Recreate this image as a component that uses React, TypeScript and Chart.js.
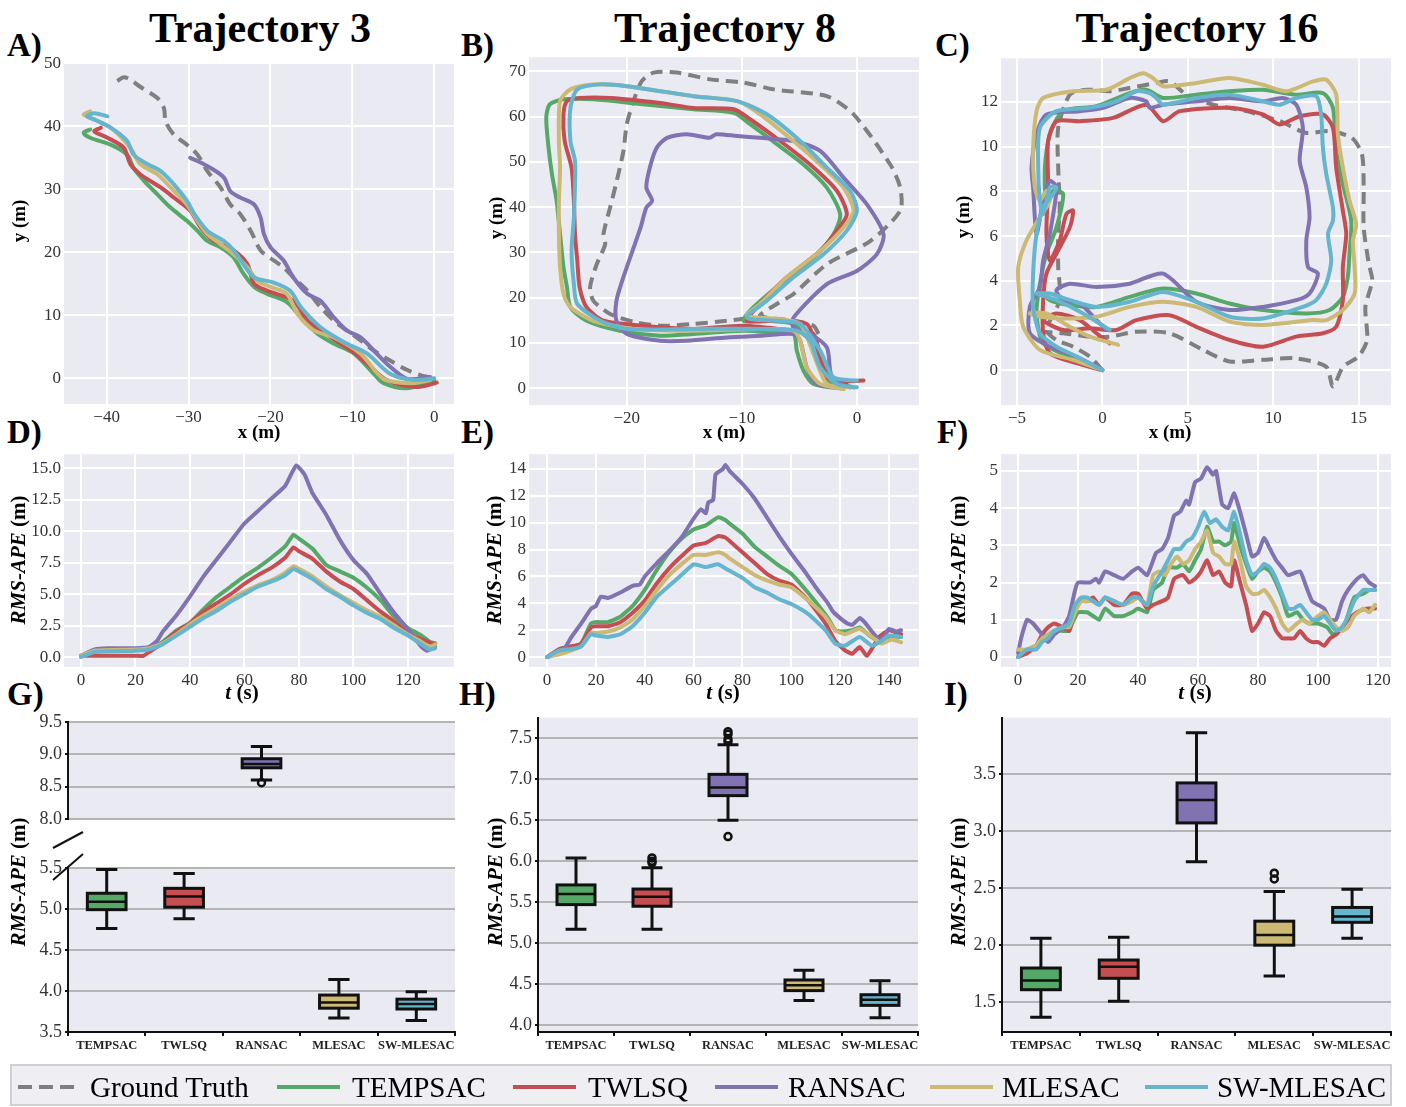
import React, { useEffect, useRef } from "react";
import { Chart, registerables } from "chart.js";
Chart.register(...registerables);

const SERIF = "'Liberation Serif','Times New Roman',serif";
const NAMES = ["Ground Truth", "TEMPSAC", "TWLSQ", "RANSAC", "MLESAC", "SW-MLESAC"];
const COLORS = ["#7f7f7f", "#55a868", "#c44e52", "#8172b2", "#ccb974", "#64b5cd"];
const DRAW_ORDER = [5, 4, 3, 2, 1, 0];
const CATS = ["TEMPSAC", "TWLSQ", "RANSAC", "MLESAC", "SW-MLESAC"];

// ---------- Trajectory 3 (x, y) ----------
const A_GT = [[-38.7,47.2],[-37.9,47.8],[-37.1,47.4],[-35.9,46.3],[-33.8,44.5],[-33.0,42.9],[-32.8,40.8],[-31.8,38.7],[-30.2,37.1],[-28.9,35.5],[-27.7,32.9],[-26.1,30.3],[-24.9,27.6],[-23.7,26.1],[-22.4,23.4],[-21.2,20.3],[-19.6,18.7],[-18.4,17.6],[-17.2,16.0],[-15.5,13.9],[-13.9,11.3],[-12.3,9.2],[-10.7,7.6],[-9.0,6.0],[-7.4,4.4],[-5.4,2.8],[-3.3,1.3],[-1.7,0.5],[0,0]];
const A_TEMPSAC = [[0,-0.3],[-3.3,-1.6],[-6.2,-0.8],[-7.4,0.7],[-9.8,3.9],[-12.3,5.5],[-14.3,7.1],[-16.3,9.7],[-18.0,12.1],[-20.4,13.4],[-22.0,14.5],[-23.3,16.6],[-24.5,19.2],[-26.1,20.8],[-27.7,21.8],[-28.9,23.4],[-30.2,25.0],[-32.2,27.1],[-33.8,29.2],[-35.4,31.3],[-36.7,33.4],[-37.5,35.5],[-39.5,37.1],[-42.0,38.2],[-42.8,39.0],[-42.0,39.5]];
const A_TWLSQ = [[0.3,-0.7],[-2.1,-1.4],[-5.8,-0.3],[-8.2,2.3],[-10.2,4.4],[-13.9,7.6],[-15.5,9.2],[-17.2,12.3],[-20.4,13.9],[-22.0,15.0],[-22.8,18.1],[-24.5,20.3],[-26.9,21.8],[-28.5,23.9],[-29.8,26.6],[-31.8,28.7],[-33.4,30.3],[-35.9,32.4],[-37.1,34.0],[-37.9,36.6],[-39.9,38.2],[-41.5,39.2],[-40.7,39.8]];
const A_RANSAC = [[-0.5,0.2],[-3.3,-0.1],[-5.8,2.3],[-7.4,4.4],[-9.0,6.5],[-10.7,7.6],[-12.3,9.7],[-13.9,12.3],[-15.5,13.4],[-17.2,16.0],[-18.4,18.7],[-20.0,20.8],[-20.8,22.9],[-21.2,25.5],[-22.0,27.6],[-23.7,28.7],[-24.9,29.7],[-25.7,31.9],[-27.3,33.4],[-28.9,34.5],[-29.8,35.0]];
const A_MLESAC = [[-0.5,-0.3],[-2.9,-0.8],[-6.2,-0.1],[-9.0,3.9],[-12.3,6.5],[-14.7,7.6],[-16.7,10.2],[-18.0,13.4],[-20.0,14.5],[-21.6,15.5],[-22.8,17.6],[-24.5,19.7],[-26.1,21.3],[-27.7,22.9],[-28.9,25.0],[-30.2,27.6],[-32.2,30.3],[-33.8,32.4],[-35.9,34.0],[-37.1,36.6],[-39.5,39.8],[-42.0,41.4],[-42.8,41.9],[-42.0,42.4]];
const A_SW = [[0,0],[-2.5,-0.3],[-5.4,0.7],[-8.2,3.9],[-10.7,5.5],[-13.9,8.1],[-16.3,11.3],[-17.6,13.9],[-19.6,15.2],[-22.0,16.0],[-23.3,18.1],[-24.5,20.3],[-25.7,21.8],[-27.7,23.4],[-29.3,26.1],[-30.2,28.2],[-31.8,30.8],[-33.4,32.9],[-35.0,34.0],[-36.7,35.5],[-37.5,37.7],[-39.5,39.8],[-41.5,41.1],[-42.4,41.6],[-41.5,42.1],[-39.9,41.6]];

// ---------- Trajectory 8 (x, y) ----------
const B_GT = [[-3.33,12.0],[-3.77,13.8],[-5.51,14.9],[-8.41,16.0],[-6.96,18.6],[-5.51,20.8],[-2.61,27.4],[1.16,32.5],[3.77,39.2],[3.77,44.3],[2.9,49.4],[-0.29,60.5],[-2.61,64.5],[-7.25,66.0],[-9.86,67.5],[-12.75,68.2],[-15.65,69.7],[-17.68,69.7],[-18.7,67.8],[-19.42,63.4],[-20.0,58.3],[-20.29,52.4],[-20.87,45.8],[-21.45,39.9],[-22.03,34.0],[-21.88,31.8],[-22.61,27.4],[-23.19,22.3],[-22.9,19.3],[-21.45,16.4],[-19.13,14.5],[-16.81,13.8],[-14.2,14.2],[-11.3,14.9],[-8.99,15.6]];
const B_TEMPSAC = [[-1.16,-0.15],[-3.77,0.96],[-4.64,3.9],[-5.22,8.3],[-5.51,12.0],[-7.25,12.3],[-9.86,12.7],[-14.2,12.0],[-17.1,11.6],[-20.6,12.7],[-23.5,14.9],[-24.9,17.9],[-25.2,22.3],[-25.5,26.7],[-25.8,34.0],[-26.1,41.4],[-26.5,47.2],[-26.8,53.1],[-27.0,59.7],[-26.7,62.7],[-25.5,63.8],[-22.9,63.8],[-18.6,62.7],[-14.2,61.6],[-10.7,60.8],[-9.28,58.3],[-6.96,53.9],[-4.64,49.4],[-2.61,44.3],[-1.45,38.4],[-2.03,34.0],[-3.77,28.9],[-6.67,23.0],[-8.99,17.9],[-9.86,14.9],[-7.83,14.9],[-5.51,14.2],[-4.35,12.0],[-3.48,6.1],[-2.61,1.7],[-0.29,0.2]];
const B_TWLSQ = [[0.58,1.7],[-1.74,1.7],[-2.9,4.6],[-3.77,12.0],[-5.51,12.7],[-9.86,13.8],[-14.2,13.1],[-18.6,13.8],[-22.0,14.9],[-23.5,17.9],[-24.1,22.3],[-24.3,28.1],[-24.5,34.0],[-24.6,41.4],[-24.8,48.7],[-25.4,54.6],[-25.5,60.5],[-25.2,63.4],[-24.1,64.1],[-21.4,64.1],[-17.1,63.0],[-14.2,61.9],[-10.7,61.6],[-9.28,59.4],[-6.67,54.6],[-4.06,49.4],[-1.74,43.6],[-0.87,38.4],[-1.74,34.8],[-3.19,30.3],[-6.09,24.5],[-8.41,18.6],[-9.57,14.9],[-6.96,14.9],[-4.35,14.2],[-3.48,9.0],[-2.61,2.4],[-0.87,1.3]];
const B_RANSAC = [[-1.74,0.2],[-3.48,0.96],[-4.35,4.6],[-4.93,10.5],[-5.51,12.0],[-8.41,11.6],[-11.3,11.2],[-14.8,10.5],[-17.1,10.5],[-20.0,12.0],[-20.9,14.9],[-20.9,19.3],[-20.3,24.5],[-19.4,31.1],[-18.8,35.5],[-18.3,39.9],[-17.8,41.4],[-18.3,44.3],[-18.0,48.7],[-17.4,53.1],[-16.5,55.3],[-14.8,56.1],[-12.8,55.3],[-12.2,56.1],[-10.4,55.7],[-8.41,55.3],[-5.51,54.6],[-3.19,52.4],[-1.16,46.5],[0.87,40.6],[2.32,34.0],[1.74,29.6],[0,25.9],[-2.61,23.0],[-5.51,15.6],[-5.51,13.4],[-4.06,12.0],[-2.61,9.0],[-2.32,3.9],[-2.03,1.7],[-0.58,0.2]];
const B_MLESAC = [[-1.16,-0.15],[-3.19,0.96],[-4.35,4.6],[-4.93,10.5],[-5.51,12.7],[-8.41,13.1],[-14.2,12.7],[-19.4,13.1],[-22.9,14.9],[-24.9,17.9],[-25.5,20.8],[-25.8,26.7],[-25.9,34.0],[-25.9,41.4],[-25.8,48.7],[-25.9,54.6],[-25.8,63.4],[-24.9,66.0],[-22.9,67.1],[-20.0,66.7],[-14.2,64.5],[-10.4,63.4],[-8.41,60.5],[-5.51,54.6],[-3.19,49.4],[-1.16,44.3],[-0.29,39.2],[-1.16,35.5],[-3.19,30.3],[-6.09,24.5],[-8.41,18.6],[-9.57,16.0],[-6.96,15.3],[-4.93,14.2],[-3.77,7.6],[-2.61,0.96],[-0.58,0.2]];
const B_SW = [[0,0.2],[-1.74,0.96],[-3.19,4.6],[-4.06,10.5],[-5.22,12.7],[-8.41,13.1],[-14.2,13.1],[-20.0,13.1],[-22.3,14.9],[-24.3,18.6],[-24.6,23.0],[-24.8,30.3],[-24.6,37.7],[-24.5,45.0],[-24.5,50.2],[-24.9,54.6],[-24.9,61.9],[-24.3,66.0],[-22.3,67.1],[-20.0,66.7],[-14.2,64.5],[-10.4,63.4],[-7.83,60.5],[-4.93,54.6],[-2.61,48.7],[-0.58,43.6],[0,39.2],[-0.87,34.8],[-2.9,29.6],[-5.51,24.5],[-7.83,19.3],[-9.57,15.6],[-6.96,14.9],[-4.93,14.2],[-3.19,8.3],[-2.03,2.4],[0,1.7]];

// ---------- Trajectory 16 (x, y) ----------
const C_GT = [[0,0],[-0.74,0.61],[-1.72,1.05],[-2.69,1.35],[-3.28,1.8],[-2.5,3.13],[-2.59,4.61],[-2.59,6.1],[-2.5,7.28],[-2.59,9.07],[-2.59,10.85],[-1.91,12.33],[-0.94,12.55],[0.43,12.48],[1.6,12.63],[3.16,12.85],[3.94,12.92],[4.91,12.33],[6.48,11.88],[8.43,11.59],[10.4,11.14],[11.9,10.62],[13.3,10.7],[14.6,10.4],[15.2,9.66],[15.3,8.18],[15.3,6.39],[15.6,4.76],[15.8,4.02],[15.4,2.83],[15.5,1.35],[15.0,0.61],[14.1,0.16],[13.5,-0.73],[13.1,0.16],[11.3,0.53],[9.38,0.46],[7.43,0.39],[5.88,0.91],[3.93,1.65],[1.98,1.72],[0.43,1.5],[-0.74,1.5],[-2.3,1.65],[-3.47,1.72]];
const C_TEMPSAC = [[0,0],[-1.91,0.61],[-3.47,1.2],[-3.86,2.54],[-3.66,3.87],[-3.28,5.21],[-2.69,6.39],[-2.3,7.88],[-2.89,8.03],[-3.28,7.28],[-3.37,9.07],[-3.08,10.55],[-2.3,11.59],[-0.35,11.81],[1.6,12.4],[2.57,12.55],[3.55,12.18],[5.5,12.33],[7.45,12.48],[9.4,12.55],[11.35,12.33],[12.91,12.4],[13.5,11.74],[13.69,9.81],[14.08,8.32],[14.57,6.69],[14.47,5.21],[14.37,4.17],[14.08,3.28],[13.3,2.69],[11.94,2.54],[9.4,2.69],[7.45,2.98],[5.5,3.43],[3.55,3.65],[1.6,3.28],[-0.35,2.83],[-1.91,2.91],[-3.08,3.13],[-3.66,3.58]];
const C_TWLSQ = [[0,0],[-1.52,0.31],[-3.08,0.76],[-3.47,1.65],[-3.47,3.13],[-3.28,4.32],[-2.69,5.21],[-1.91,6.39],[-1.72,7.14],[-2.11,6.99],[-2.5,5.8],[-3.08,4.91],[-3.28,6.1],[-3.18,8.18],[-3.18,10.25],[-2.69,11.14],[-1.33,11.14],[0.62,11.29],[2.57,11.88],[3.55,11.14],[4.52,11.59],[7.45,11.74],[9.4,11.44],[10.38,10.99],[11.55,11.36],[12.91,11.44],[13.5,10.85],[13.69,9.07],[14.08,7.14],[14.28,6.1],[14.08,4.61],[14.08,3.13],[13.69,1.94],[12.91,1.65],[11.35,1.5],[9.4,1.05],[7.45,1.35],[5.5,1.94],[3.93,2.46],[1.98,2.24],[0.82,1.8],[-0.74,1.87],[-2.3,1.8],[-3.47,2.24],[-2.69,2.54],[-1.33,2.24],[-0.35,1.65],[0.43,1.2]];
const C_RANSAC = [[0,0],[-1.52,0.61],[-3.08,1.05],[-4.25,1.65],[-4.25,2.83],[-3.66,3.72],[-3.47,4.91],[-3.08,6.1],[-2.69,8.18],[-3.08,8.47],[-3.47,7.58],[-3.86,6.1],[-4.06,8.18],[-4.15,9.07],[-3.86,10.55],[-3.28,11.44],[-1.33,11.59],[0.04,11.74],[1.6,12.18],[2.57,12.03],[2.77,11.74],[3.55,11.88],[5.5,12.03],[7.45,12.18],[9.4,12.03],[10.57,12.18],[11.35,11.88],[11.74,10.85],[11.55,9.36],[11.94,8.18],[12.13,6.84],[11.94,5.8],[12.04,4.61],[12.62,4.32],[12.13,3.43],[11.35,3.13],[9.4,2.83],[7.45,2.69],[5.5,3.06],[3.55,4.32],[1.6,3.87],[-0.35,3.72],[-1.91,3.87],[-2.69,3.58],[-2.3,3.13],[-1.33,2.98],[-0.35,2.24],[0.23,1.8]];
const C_MLESAC = [[0,0],[-1.72,0.46],[-3.66,0.91],[-4.64,1.94],[-4.84,3.13],[-4.93,4.61],[-4.45,5.8],[-3.66,6.84],[-3.08,7.58],[-3.28,8.03],[-3.66,7.58],[-3.96,8.18],[-4.06,9.81],[-3.86,11.59],[-3.47,12.18],[-1.72,12.48],[0.23,12.55],[1.6,13.07],[2.38,13.29],[2.96,13.07],[3.55,12.7],[5.5,12.85],[7.45,13.07],[9.4,12.77],[10.77,12.48],[12.33,12.92],[13.11,13.0],[13.69,12.33],[13.79,10.55],[14.08,9.07],[14.47,7.58],[14.86,6.54],[14.67,5.8],[14.77,4.61],[14.77,3.43],[14.08,2.69],[13.11,2.24],[12.33,2.24],[9.4,2.02],[7.45,2.17],[5.5,2.83],[3.55,3.06],[1.6,2.83],[-0.35,2.39],[-2.3,2.31],[-3.66,2.39],[-4.25,2.54],[-3.28,2.54],[-1.91,1.94],[-0.74,1.5],[0.92,1.13]];
const C_SW = [[0,0],[-1.52,0.61],[-2.69,1.05],[-3.66,1.65],[-4.06,2.83],[-4.06,4.32],[-3.86,6.1],[-3.47,7.28],[-2.89,7.88],[-2.69,8.18],[-3.08,8.18],[-3.47,6.99],[-3.66,7.58],[-3.76,9.07],[-3.66,10.85],[-2.69,11.59],[-0.74,11.74],[0.82,12.03],[1.99,12.48],[2.77,12.4],[3.16,12.18],[3.55,11.88],[5.5,12.18],[7.45,12.33],[9.4,12.03],[10.38,11.88],[11.35,12.18],[12.52,12.26],[12.81,11.44],[12.91,9.96],[13.11,8.77],[13.5,7.28],[13.5,6.69],[13.21,6.1],[13.4,4.91],[13.11,3.87],[12.52,3.13],[11.74,2.83],[9.4,2.31],[7.45,2.39],[5.5,3.06],[3.55,3.5],[1.6,3.06],[-0.35,2.83],[-1.91,3.13],[-3.08,3.43],[-3.86,3.43],[-2.69,3.13],[-1.13,2.54],[0.43,1.8]];

// ---------- RMS-APE over time (t, value) ----------
const D_TEMPSAC = [[0,0.1],[5,0.5],[20,0.6],[25,0.7],[30,1.2],[35,2.1],[40,2.7],[45,3.8],[50,4.8],[55,5.6],[60,6.4],[65,7.1],[70,7.9],[75,8.8],[78,9.7],[80,9.4],[85,8.6],[90,7.3],[95,6.8],[100,6.3],[105,5.5],[110,4.5],[115,3.2],[120,2.3],[125,1.7],[128,1.2],[130,1.1]];
const D_TWLSQ = [[0,0.1],[5,0.1],[20,0.1],[23,0.1],[25,0.4],[30,1.1],[35,2.0],[40,2.7],[45,3.6],[50,4.3],[55,5.0],[60,5.8],[65,6.5],[70,7.1],[75,7.9],[78,8.7],[80,8.4],[85,7.8],[90,6.8],[95,6.0],[100,5.4],[105,4.5],[110,3.6],[115,2.8],[120,1.9],[125,1.4],[130,1.0]];
const D_RANSAC = [[0,0.1],[5,0.6],[10,0.7],[20,0.7],[25,0.8],[28,1.3],[30,2.0],[35,3.3],[40,4.8],[45,6.4],[50,7.8],[55,9.2],[60,10.6],[65,11.6],[70,12.6],[75,13.6],[79,15.2],[82,14.5],[85,13.0],[90,11.3],[95,9.3],[100,7.7],[105,6.6],[110,5.0],[115,3.5],[120,2.2],[125,0.8],[127,0.5],[130,0.8]];
const D_MLESAC = [[0,0.1],[5,0.5],[20,0.6],[25,0.7],[30,1.1],[35,1.8],[40,2.6],[45,3.3],[50,3.9],[55,4.6],[60,5.2],[65,5.7],[70,6.1],[75,6.7],[78,7.2],[80,7.0],[85,6.4],[90,5.6],[95,4.9],[100,4.3],[105,3.7],[110,3.2],[115,2.5],[120,1.8],[125,1.2],[128,0.8],[130,1.0]];
const D_SW = [[0,0.0],[5,0.4],[20,0.5],[25,0.6],[30,1.0],[35,1.7],[40,2.4],[45,3.1],[50,3.7],[55,4.4],[60,5.0],[65,5.6],[70,6.0],[75,6.5],[78,7.0],[80,6.8],[85,6.2],[90,5.4],[95,4.8],[100,4.1],[105,3.5],[110,3.0],[115,2.3],[120,1.7],[125,1.0],[128,0.6],[130,0.7]];

const E_TEMPSAC = [[0,0],[5,0.5],[10,0.7],[14,1.0],[18,2.5],[20,2.6],[25,2.6],[30,3.0],[35,3.8],[40,5.0],[45,6.5],[50,7.8],[55,8.8],[60,9.5],[65,9.8],[70,10.4],[73,10.2],[75,9.9],[80,9.2],[85,8.2],[90,7.5],[95,6.8],[100,6.2],[105,5.2],[110,4.1],[115,2.9],[118,2.0],[120,1.9],[125,2.0],[128,2.2],[132,1.6],[137,1.1],[140,1.5],[145,1.5]];
const E_TWLSQ = [[0,0],[5,0.6],[10,0.8],[14,1.0],[18,2.2],[20,2.3],[25,2.3],[30,2.6],[35,3.3],[40,4.2],[45,5.5],[50,6.6],[55,7.5],[60,8.3],[65,8.5],[70,9.0],[73,8.9],[75,8.6],[80,7.8],[85,7.0],[90,6.2],[95,5.7],[100,5.4],[107,4.2],[114,2.5],[118,1.2],[122,0.5],[125,0.25],[128,0.75],[131,0.1],[136,1.5],[140,2.0],[145,1.7]];
const E_RANSAC = [[0,0],[3,0.2],[7,0.6],[10,1.5],[14,2.5],[18,3.6],[20,3.8],[22,4.5],[25,4.4],[30,4.8],[35,5.3],[38,5.4],[40,6.0],[45,7.0],[50,7.9],[55,8.9],[60,10.3],[63,11.0],[65,10.7],[66,11.5],[68,11.7],[69,13.6],[72,14.0],[73,14.3],[75,13.8],[80,12.9],[85,11.8],[90,10.4],[95,9.0],[100,7.7],[105,6.5],[110,5.2],[115,4.0],[117,3.4],[120,2.9],[123,2.5],[125,2.4],[128,2.9],[130,2.6],[133,1.9],[136,1.3],[138,1.5],[140,2.1],[143,1.9],[145,2.0]];
const E_MLESAC = [[0,0],[5,0.2],[10,0.5],[14,0.8],[18,1.8],[20,1.8],[25,1.9],[30,2.2],[35,2.8],[40,3.8],[45,5.0],[50,6.1],[55,6.9],[60,7.6],[65,7.6],[70,7.8],[73,7.6],[75,7.3],[80,6.7],[85,6.1],[90,5.7],[95,5.4],[100,5.2],[107,4.2],[114,3.0],[118,2.0],[122,1.7],[128,2.1],[133,1.5],[137,1.0],[141,1.3],[145,1.1]];
const E_SW = [[0,0],[5,0.5],[10,0.6],[14,0.8],[18,1.7],[20,1.6],[25,1.5],[30,1.7],[35,2.3],[40,3.3],[45,4.5],[50,5.3],[55,6.1],[60,6.9],[65,6.7],[70,6.9],[73,6.6],[75,6.4],[80,5.9],[85,5.2],[90,4.8],[95,4.3],[100,3.95],[107,3.2],[114,2.0],[118,1.0],[122,0.85],[128,1.5],[133,0.85],[137,1.2],[140,1.6],[145,1.5]];

const F_TEMPSAC = [[0,0.0],[3,0.2],[6,0.3],[8,0.5],[10,0.6],[12,0.7],[15,0.7],[17,0.7],[18,0.9],[20,1.2],[23,1.2],[25,1.1],[27,1.0],[29,1.3],[32,1.1],[35,1.1],[38,1.2],[40,1.3],[43,1.2],[45,1.8],[48,2.0],[50,2.4],[53,2.4],[55,2.5],[57,2.3],[59,2.6],[61,2.9],[63,3.5],[65,3.1],[67,3.1],[69,3.0],[71,3.1],[72,3.6],[74,3.0],[76,2.5],[78,2.1],[80,2.3],[82,2.4],[84,2.3],[86,2.0],[88,1.6],[90,1.1],[93,1.2],[95,1.0],[97,0.9],[100,0.9],[103,0.8],[105,0.6],[107,0.7],[109,0.9],[112,1.6],[115,1.7],[117,1.8],[119,1.8]];
const F_TWLSQ = [[0,0.0],[3,0.1],[6,0.3],[8,0.6],[10,0.8],[12,0.9],[15,0.8],[17,0.7],[19,1.3],[21,1.5],[23,1.5],[25,1.6],[27,1.4],[29,1.6],[32,1.4],[35,1.4],[38,1.7],[40,1.7],[43,1.3],[45,1.4],[48,1.5],[50,1.6],[52,2.1],[55,2.2],[57,2.0],[59,2.1],[61,2.3],[63,2.6],[65,2.2],[67,2.3],[69,2.0],[71,1.9],[72,2.6],[74,2.0],[76,1.4],[78,0.7],[80,0.9],[82,1.2],[84,1.1],[86,0.7],[88,0.5],[90,0.5],[92,0.5],[94,0.7],[96,0.5],[98,0.4],[100,0.4],[102,0.3],[104,0.5],[106,0.6],[108,0.8],[110,1.0],[113,1.2],[116,1.3],[119,1.3]];
const F_RANSAC = [[0,0.1],[1,0.5],[3,1.0],[5,0.9],[8,0.6],[10,0.4],[12,0.6],[15,0.8],[17,1.1],[19,1.8],[20,2.0],[24,2.0],[26,2.1],[27,2.0],[29,2.3],[32,2.2],[35,2.1],[38,2.3],[40,2.4],[43,2.2],[46,2.8],[48,2.9],[50,3.2],[52,3.8],[54,3.9],[56,4.2],[57,4.1],[59,4.7],[61,4.8],[63,5.1],[65,4.9],[66,5.0],[68,4.1],[70,4.0],[72,4.4],[74,3.9],[76,3.3],[78,2.7],[80,2.8],[82,3.2],[84,2.9],[86,2.6],[88,2.4],[90,2.2],[94,2.3],[96,1.9],[98,1.5],[100,1.4],[102,1.3],[104,1.0],[106,1.0],[108,1.5],[110,1.8],[113,2.1],[115,2.2],[117,2.0],[119,1.9]];
const F_MLESAC = [[0,0.2],[3,0.2],[6,0.3],[8,0.5],[10,0.6],[12,0.7],[15,0.8],[17,0.8],[19,1.2],[21,1.5],[23,1.5],[25,1.5],[27,1.4],[29,1.6],[32,1.5],[35,1.4],[38,1.5],[40,1.6],[43,1.4],[45,2.2],[47,2.3],[49,2.2],[51,2.5],[53,2.7],[55,2.5],[57,2.6],[59,2.9],[61,3.1],[63,3.4],[65,2.8],[67,2.7],[69,2.5],[71,2.5],[72,3.1],[74,2.6],[76,1.9],[78,1.7],[80,1.7],[82,1.8],[84,1.6],[86,1.3],[88,0.9],[90,0.7],[93,0.9],[95,1.0],[97,0.9],[100,1.1],[102,1.2],[104,1.0],[106,0.8],[108,0.7],[110,0.8],[112,1.1],[115,1.3],[117,1.2],[119,1.4]];
const F_SW = [[0,0.0],[3,0.2],[6,0.2],[8,0.4],[10,0.5],[12,0.7],[15,0.8],[17,0.9],[19,1.4],[21,1.6],[23,1.6],[25,1.5],[27,1.4],[29,1.6],[32,1.5],[35,1.4],[38,1.6],[40,1.6],[43,1.4],[45,1.9],[48,2.3],[50,2.6],[52,2.9],[54,2.9],[56,3.1],[58,3.2],[60,3.5],[62,3.9],[64,3.6],[66,3.7],[68,3.5],[70,3.4],[72,3.9],[74,3.3],[76,2.6],[78,2.2],[80,2.3],[82,2.5],[84,2.4],[86,2.1],[88,1.7],[90,1.3],[92,1.3],[94,1.4],[96,1.2],[98,1.0],[100,1.0],[102,1.1],[104,0.9],[106,0.7],[108,0.8],[110,1.1],[112,1.5],[115,1.8],[117,1.8],[119,1.8]];

// ---------- Box plot statistics (per method, CATS order) ----------
const G_LO = [4.76, 4.88, 8.60, 3.67, 3.64];
const G_Q1 = [4.99, 5.02, 8.79, 3.79, 3.78];
const G_MED = [5.085, 5.15, 8.85, 3.86, 3.84];
const G_Q3 = [5.19, 5.25, 8.93, 3.95, 3.90];
const G_HI = [5.48, 5.43, 9.12, 4.14, 3.99];
const G_OUT = [[], [], [8.56], [], []];

const H_LO = [5.17, 5.17, 6.50, 4.30, 4.09];
const H_Q1 = [5.47, 5.45, 6.80, 4.42, 4.24];
const H_MED = [5.60, 5.565, 6.90, 4.485, 4.31];
const H_Q3 = [5.71, 5.66, 7.06, 4.55, 4.37];
const H_HI = [6.04, 5.92, 7.42, 4.67, 4.54];
const H_OUT = [[], [6.04, 6.0, 5.98], [7.58, 7.55, 7.49, 7.46, 6.30], [], []];

const I_LO = [1.37, 1.51, 2.73, 1.73, 2.06];
const I_Q1 = [1.61, 1.71, 3.07, 2.00, 2.20];
const I_MED = [1.69, 1.81, 3.27, 2.09, 2.25];
const I_Q3 = [1.80, 1.87, 3.42, 2.21, 2.33];
const I_HI = [2.06, 2.07, 3.86, 2.47, 2.49];
const I_OUT = [[], [], [], [2.63, 2.58], []];

// ---------- Tick values ----------
const A_XT = [-40, -30, -20, -10, 0];
const A_YT = [0, 10, 20, 30, 40, 50];
const B_XT = [-20, -10, 0];
const B_YT = [0, 10, 20, 30, 40, 50, 60, 70];
const C_XT = [-5, 0, 5, 10, 15];
const C_YT = [0, 2, 4, 6, 8, 10, 12];
const D_XT = [0, 20, 40, 60, 80, 100, 120];
const D_YT = [0, 2.5, 5, 7.5, 10, 12.5, 15];
const E_XT = [0, 20, 40, 60, 80, 100, 120, 140];
const E_YT = [0, 2, 4, 6, 8, 10, 12, 14];
const F_XT = [0, 20, 40, 60, 80, 100, 120];
const F_YT = [0, 1, 2, 3, 4, 5];
const GU_YT = [8.0, 8.5, 9.0, 9.5];
const GL_YT = [3.5, 4.0, 4.5, 5.0, 5.5];
const H_YT = [4.0, 4.5, 5.0, 5.5, 6.0, 6.5, 7.0, 7.5];
const I_YT = [1.5, 2.0, 2.5, 3.0, 3.5];

// ---------- helpers ----------
const fmt = (v: number, d: number) => (d > 0 ? v.toFixed(d) : String(v)).replace("-", "\u2212");

const bgPlugin = {
  id: "plotbg",
  beforeDraw(chart: any) {
    const { ctx, chartArea: a } = chart;
    ctx.save();
    ctx.fillStyle = "#eaeaf2";
    ctx.fillRect(a.left, a.top, a.right - a.left, a.bottom - a.top);
    ctx.restore();
  },
};

const LM = { L: 56, R: 12, T: 12, B: 28 };

function linAxis(min: number, max: number, ticks: number[], dec: number, axis: string, size: number) {
  return {
    type: "linear",
    min,
    max,
    afterBuildTicks: (s: any) => {
      s.ticks = ticks.map((v) => ({ value: v }));
    },
    afterFit: (s: any) => {
      if (axis === "x") s.height = size;
      else s.width = size;
    },
    ticks: {
      autoSkip: false,
      maxRotation: 0,
      minRotation: 0,
      color: "#333",
      padding: 3,
      font: { family: SERIF, size: 17 },
      callback: (v: number) => fmt(v, dec),
    },
    grid: { color: "#ffffff", lineWidth: 2, drawTicks: false },
    border: { display: false },
  };
}

function lineConfig(series: number[][][], idx: number[], xr: number[], yr: number[], xt: number[], yt: number[], yDec: number, tension: number) {
  return {
    type: "scatter",
    data: {
      datasets: series.map((pts, k) => {
        const i = idx[k];
        return {
          label: NAMES[i],
          data: pts.map((p) => ({ x: p[0], y: p[1] })),
          borderColor: COLORS[i],
          backgroundColor: COLORS[i],
          borderWidth: 4,
          borderDash: i === 0 ? [12, 7] : [],
          borderCapStyle: i === 0 ? "butt" : "round",
          borderJoinStyle: "round",
          pointRadius: 0,
          showLine: true,
          fill: false,
          tension,
          order: DRAW_ORDER[i],
        };
      }),
    },
    options: {
      animation: false,
      responsive: false,
      devicePixelRatio: 1,
      events: [],
      layout: { padding: { top: LM.T, right: LM.R, left: 0, bottom: 0 } },
      plugins: { legend: { display: false }, tooltip: { enabled: false } },
      scales: {
        x: linAxis(xr[0], xr[1], xt, 0, "x", LM.B),
        y: linAxis(yr[0], yr[1], yt, yDec, "y", LM.L),
      },
    },
    plugins: [bgPlugin],
  };
}

function makeBoxPlugin(lo: number[], med: number[], hi: number[], out: number[][]) {
  return {
    id: "boxwhiskers",
    afterDatasetsDraw(chart: any) {
      const { ctx, chartArea: a, scales } = chart;
      const xs = scales.x;
      const ys = scales.y;
      const meta = chart.getDatasetMeta(0);
      const data = chart.data.datasets[0].data;
      ctx.save();
      ctx.beginPath();
      ctx.rect(a.left, a.top - 2, a.right - a.left, a.bottom - a.top + 4);
      ctx.clip();
      ctx.strokeStyle = "#111";
      ctx.lineWidth = 3;
      ctx.lineJoin = "miter";
      for (let i = 0; i < data.length; i++) {
        const cx = xs.getPixelForValue(i);
        const bw = meta.data[i].width;
        const cw = bw * 0.55;
        const pLo = ys.getPixelForValue(lo[i]);
        const pHi = ys.getPixelForValue(hi[i]);
        const pQ1 = ys.getPixelForValue(data[i][0]);
        const pQ3 = ys.getPixelForValue(data[i][1]);
        const pMed = ys.getPixelForValue(med[i]);
        ctx.lineWidth = 3;
        ctx.beginPath();
        ctx.moveTo(cx, pQ1);
        ctx.lineTo(cx, pLo);
        ctx.moveTo(cx, pQ3);
        ctx.lineTo(cx, pHi);
        ctx.moveTo(cx - cw / 2, pLo);
        ctx.lineTo(cx + cw / 2, pLo);
        ctx.moveTo(cx - cw / 2, pHi);
        ctx.lineTo(cx + cw / 2, pHi);
        ctx.stroke();
        ctx.strokeRect(cx - bw / 2, pQ3, bw, pQ1 - pQ3);
        ctx.lineWidth = 2.5;
        ctx.beginPath();
        ctx.moveTo(cx - bw / 2, pMed);
        ctx.lineTo(cx + bw / 2, pMed);
        ctx.stroke();
        for (const o of out[i]) {
          ctx.beginPath();
          ctx.arc(cx, ys.getPixelForValue(o), 3.5, 0, Math.PI * 2);
          ctx.stroke();
        }
      }
      ctx.restore();
    },
  };
}

const BM = { L: 56, R: 4, T: 12, B: 26, PB: 10 };

function boxConfig(lo: number[], q1: number[], med: number[], q3: number[], hi: number[], out: number[][], yr: number[], yt: number[], showX: boolean) {
  return {
    type: "bar",
    data: {
      labels: CATS,
      datasets: [
        {
          data: q1.map((v, i) => [v, q3[i]]),
          backgroundColor: COLORS.slice(1),
          borderWidth: 0,
          barPercentage: 0.5,
          categoryPercentage: 1,
          clip: 2,
        },
      ],
    },
    options: {
      animation: false,
      responsive: false,
      devicePixelRatio: 1,
      events: [],
      layout: { padding: { top: BM.T, right: BM.R, left: 0, bottom: showX ? 0 : BM.PB } },
      plugins: { legend: { display: false }, tooltip: { enabled: false } },
      scales: {
        x: {
          display: showX,
          afterFit: (s: any) => {
            s.height = BM.B;
          },
          grid: { display: true, drawOnChartArea: false, drawTicks: true, tickLength: 4, tickColor: "#111", lineWidth: 2 },
          border: { display: true, color: "#111", width: 2 },
          ticks: { autoSkip: false, maxRotation: 0, padding: 2, color: "#222", font: { family: SERIF, size: 12.5, weight: "bold" } },
        },
        y: {
          type: "linear",
          min: yr[0],
          max: yr[1],
          afterBuildTicks: (s: any) => {
            s.ticks = yt.map((v) => ({ value: v }));
          },
          afterFit: (s: any) => {
            s.width = BM.L;
          },
          grid: { color: "#b4b4b4", lineWidth: 2, drawTicks: true, tickLength: 3, tickColor: "#111" },
          border: { display: true, color: "#111", width: 2 },
          ticks: { autoSkip: false, padding: 3, color: "#333", font: { family: SERIF, size: 18 }, callback: (v: number) => v.toFixed(1) },
        },
      },
    },
    plugins: [bgPlugin, makeBoxPlugin(lo, med, hi, out)],
  };
}

function ChartCanvas({ rect, m, showX = true, make }: any) {
  const ref = useRef<HTMLCanvasElement>(null);
  const left = rect[0] - m.L;
  const top = rect[1] - m.T;
  const width = rect[2] - rect[0] + m.L + m.R;
  const height = rect[3] - rect[1] + m.T + (showX ? m.B : m.PB);
  useEffect(() => {
    const chart = new Chart(ref.current as HTMLCanvasElement, make() as any);
    return () => chart.destroy();
  }, []);
  return <canvas ref={ref} width={width} height={height} style={{ position: "absolute", left, top, width, height }} />;
}

function Txt({ x, y, size, bold = false, italic = false, center = false, children }: any) {
  return (
    <div
      style={{
        position: "absolute",
        left: x,
        top: y - 0.84 * size,
        fontFamily: SERIF,
        fontSize: size,
        lineHeight: `${size}px`,
        fontWeight: bold ? 700 : 400,
        fontStyle: italic ? "italic" : "normal",
        transform: center ? "translateX(-50%)" : undefined,
        whiteSpace: "nowrap",
        color: "#000",
      }}
    >
      {children}
    </div>
  );
}

function VTxt({ x, y, size, children }: any) {
  return (
    <div
      style={{
        position: "absolute",
        left: x,
        top: y,
        fontFamily: SERIF,
        fontSize: size,
        lineHeight: `${size}px`,
        fontWeight: 700,
        transform: "translate(-50%,-50%) rotate(-90deg)",
        whiteSpace: "nowrap",
        color: "#000",
      }}
    >
      {children}
    </div>
  );
}

const RMS = (
  <>
    <i>RMS-APE</i> (m)
  </>
);
const TS = (
  <>
    <i>t</i> (s)
  </>
);

const ALL = [0, 1, 2, 3, 4, 5];
const METH = [1, 2, 3, 4, 5];

export default function App() {
  const legendItems = [
    { i: 0, x1: 18, x2: 78, tx: 90 },
    { i: 1, x1: 277, x2: 340, tx: 352 },
    { i: 2, x1: 513, x2: 576, tx: 588 },
    { i: 3, x1: 715, x2: 778, tx: 788 },
    { i: 4, x1: 930, x2: 993, tx: 1002 },
    { i: 5, x1: 1145, x2: 1208, tx: 1217 },
  ];
  return (
    <div style={{ position: "absolute", left: 0, top: 0, width: 1406, height: 1107, background: "#fff", overflow: "hidden" }}>
      <Txt x={260} y={42} size={42} bold center>Trajectory 3</Txt>
      <Txt x={725} y={42} size={42} bold center>Trajectory 8</Txt>
      <Txt x={1197} y={42} size={42} bold center>Trajectory 16</Txt>

      <Txt x={7} y={57} size={33} bold>A)</Txt>
      <Txt x={461} y={57} size={33} bold>B)</Txt>
      <Txt x={935} y={57} size={33} bold>C)</Txt>
      <Txt x={7} y={444} size={33} bold>D)</Txt>
      <Txt x={461} y={444} size={33} bold>E)</Txt>
      <Txt x={937} y={444} size={33} bold>F)</Txt>
      <Txt x={7} y={706} size={33} bold>G)</Txt>
      <Txt x={459} y={706} size={33} bold>H)</Txt>
      <Txt x={944} y={706} size={33} bold>I)</Txt>

      <ChartCanvas rect={[64, 61, 454, 404]} m={LM} make={() => lineConfig([A_GT, A_TEMPSAC, A_TWLSQ, A_RANSAC, A_MLESAC, A_SW], ALL, [-45.2, 2.4], [-4.1, 50.2], A_XT, A_YT, 0, 0.3)} />
      <ChartCanvas rect={[529, 56, 919, 405]} m={LM} make={() => lineConfig([B_GT, B_TEMPSAC, B_TWLSQ, B_RANSAC, B_MLESAC, B_SW], ALL, [-28.5, 5.4], [-3.7, 73.1], B_XT, B_YT, 0, 0.25)} />
      <ChartCanvas rect={[1001, 57, 1391, 405]} m={LM} make={() => lineConfig([C_GT, C_TEMPSAC, C_TWLSQ, C_RANSAC, C_MLESAC, C_SW], ALL, [-5.94, 16.9], [-1.56, 13.96], C_XT, C_YT, 0, 0.25)} />

      <ChartCanvas rect={[64, 453, 454, 667]} m={LM} make={() => lineConfig([D_TEMPSAC, D_TWLSQ, D_RANSAC, D_MLESAC, D_SW], METH, [-6.2, 136.9], [-0.79, 16.1], D_XT, D_YT, 1, 0.15)} />
      <ChartCanvas rect={[529, 453, 919, 667]} m={LM} make={() => lineConfig([E_TEMPSAC, E_TWLSQ, E_RANSAC, E_MLESAC, E_SW], METH, [-7.4, 152.3], [-0.74, 15.1], E_XT, E_YT, 0, 0.15)} />
      <ChartCanvas rect={[1001, 453, 1391, 667]} m={LM} make={() => lineConfig([F_TEMPSAC, F_TWLSQ, F_RANSAC, F_MLESAC, F_SW], METH, [-5.7, 124.3], [-0.27, 5.45], F_XT, F_YT, 0, 0.15)} />

      <ChartCanvas rect={[68, 720, 455, 845]} m={BM} showX={false} make={() => boxConfig(G_LO, G_Q1, G_MED, G_Q3, G_HI, G_OUT, [8.0, 9.5], GU_YT, false)} />
      <ChartCanvas rect={[68, 866, 455, 1032]} m={BM} make={() => boxConfig(G_LO, G_Q1, G_MED, G_Q3, G_HI, G_OUT, [3.5, 5.5], GL_YT, true)} />
      <ChartCanvas rect={[538, 716, 918, 1032]} m={BM} make={() => boxConfig(H_LO, H_Q1, H_MED, H_Q3, H_HI, H_OUT, [3.915, 7.75], H_YT, true)} />
      <ChartCanvas rect={[1002, 716, 1391, 1032]} m={BM} make={() => boxConfig(I_LO, I_Q1, I_MED, I_Q3, I_HI, I_OUT, [1.24, 3.99], I_YT, true)} />

      <svg width={1406} height={1107} style={{ position: "absolute", left: 0, top: 0, pointerEvents: "none" }}>
        <line x1={53} y1={848} x2={83} y2={832} stroke="#111" strokeWidth={2} />
        <line x1={53} y1={880} x2={83} y2={854} stroke="#111" strokeWidth={2} />
      </svg>

      <Txt x={259} y={438} size={19} bold center>x (m)</Txt>
      <Txt x={724} y={438} size={19} bold center>x (m)</Txt>
      <Txt x={1170} y={438} size={19} bold center>x (m)</Txt>
      <Txt x={242} y={700} size={21} bold center>{TS}</Txt>
      <Txt x={723} y={700} size={21} bold center>{TS}</Txt>
      <Txt x={1195} y={700} size={21} bold center>{TS}</Txt>

      <VTxt x={18} y={221} size={19}>y (m)</VTxt>
      <VTxt x={495} y={218} size={19}>y (m)</VTxt>
      <VTxt x={962} y={217} size={19}>y (m)</VTxt>
      <VTxt x={18} y={560} size={21}>{RMS}</VTxt>
      <VTxt x={494} y={560} size={21}>{RMS}</VTxt>
      <VTxt x={958} y={560} size={21}>{RMS}</VTxt>
      <VTxt x={18} y={882} size={21}>{RMS}</VTxt>
      <VTxt x={495} y={882} size={21}>{RMS}</VTxt>
      <VTxt x={958} y={882} size={21}>{RMS}</VTxt>

      <div style={{ position: "absolute", left: 10, top: 1064, width: 1382, height: 42, boxSizing: "border-box", border: "2px solid #cfcfd4", background: "#eeeef3" }} />
      <svg width={1406} height={30} style={{ position: "absolute", left: 0, top: 1072 }}>
        {legendItems.map((it) => (
          <line key={it.i} x1={it.x1} y1={15} x2={it.x2} y2={15} stroke={COLORS[it.i]} strokeWidth={4} strokeDasharray={it.i === 0 ? "14 7" : undefined} />
        ))}
      </svg>
      {legendItems.map((it) => (
        <Txt key={"t" + it.i} x={it.tx} y={1097} size={29}>
          {NAMES[it.i]}
        </Txt>
      ))}
    </div>
  );
}
